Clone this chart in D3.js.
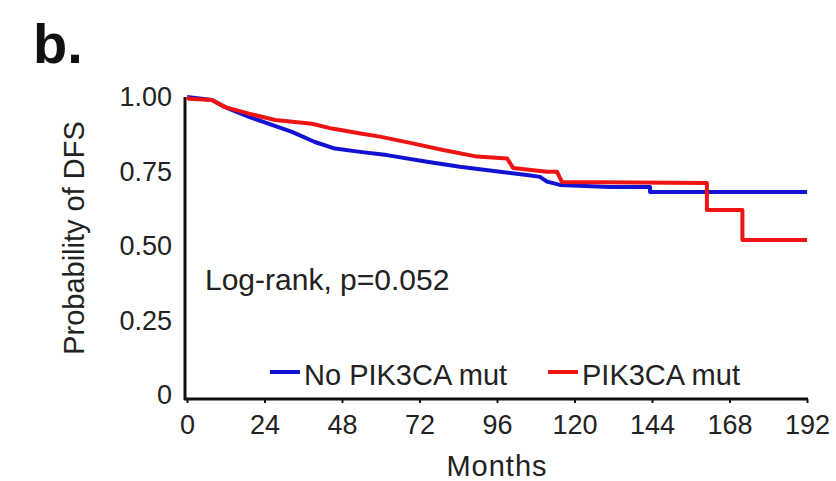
<!DOCTYPE html>
<html>
<head>
<meta charset="utf-8">
<title>Probability of DFS by PIK3CA status</title>
<style>
  body { margin: 0; background: #fff; }
  svg { display: block; font-family: "Liberation Sans", Arial, sans-serif; }
  .axis text { font-size: 27px; fill: #222; }
  .axis .domain { display: none; }
  .axis line { stroke: #111; stroke-width: 2px; }
  .label { font-size: 29px; fill: #222; }
  .panel { font-size: 56px; font-weight: bold; fill: #111; }
</style>
</head>
<body>
<svg width="836" height="481"></svg>
<script src="https://d3js.org/d3.v7.min.js"></script>
<script>
// values: [months, probability]
const noMut = [
  [0, 1.0], [7.7, 0.990], [11.8, 0.966], [19.2, 0.933], [25.4, 0.910],
  [32.5, 0.883], [39.6, 0.849], [45.8, 0.827], [54.2, 0.815], [61.9, 0.805],
  [74.3, 0.783], [84.5, 0.766], [96.9, 0.749], [105.3, 0.738], [109.3, 0.732],
  [111.5, 0.716], [115.5, 0.705], [131, 0.698], [143.4, 0.698], [143.4, 0.681],
  [192, 0.681]
];
const mut = [
  [0, 1.0], [0.6, 0.994], [7.7, 0.990], [11.8, 0.966], [19.2, 0.944],
  [27.3, 0.923], [38.7, 0.910], [44.9, 0.894], [54.2, 0.877], [59.8, 0.867],
  [69.1, 0.846], [79.3, 0.822], [89.8, 0.800], [99.1, 0.794], [101, 0.762],
  [111.5, 0.749], [114.6, 0.749], [116.1, 0.715], [161, 0.711], [161, 0.621],
  [172, 0.621], [172, 0.520], [192, 0.520]
];
const xTicks = [0, 24, 48, 72, 96, 120, 144, 168, 192];
const yTicks = [0, 0.25, 0.5, 0.75, 1];
const seriesNames = ["No PIK3CA mut", "PIK3CA mut"];
const seriesColors = ["#1212d2", "#ee1414"];

const svg = d3.select("svg");

let x = d3.scaleLinear().domain([0, 192]).range([187, 807]);
let y = d3.scaleLinear().domain([0, 1]).range([395, 97]);
let axisY = 399; // x axis sits a little below y(0)

svg.append("text")
  .attr("class", "panel")
  .attr("x", 33).attr("y", 63)
  .text("b.");

// axes
svg.append("g")
  .attr("class", "axis x")
  .attr("transform", `translate(0,${axisY})`)
  .call(d3.axisBottom(x).tickValues(xTicks).tickSize(4).tickPadding(12).tickSizeOuter(0));

svg.append("g")
  .attr("class", "axis y")
  .attr("transform", `translate(${x(0) - 2},0)`)
  .call(d3.axisLeft(y).tickValues(yTicks).tickSize(0).tickPadding(13)
    .tickFormat(d => d === 0 ? "0" : d3.format(".2f")(d)));

// spines
svg.append("line")
  .attr("x1", x(0) - 3).attr("x2", x(192) + 1)
  .attr("y1", axisY).attr("y2", axisY)
  .attr("stroke", "#111").attr("stroke-width", 3);
svg.append("line")
  .attr("x1", x(0) - 2).attr("x2", x(0) - 2)
  .attr("y1", y(1)).attr("y2", axisY + 1)
  .attr("stroke", "#111").attr("stroke-width", 3);

// curves
let line = d3.line().x(d => x(d[0])).y(d => y(d[1]));
[noMut, mut].forEach((data, i) => {
  svg.append("path")
    .datum(data)
    .attr("fill", "none")
    .attr("stroke", seriesColors[i])
    .attr("stroke-width", 4)
    .attr("stroke-linejoin", "round")
    .attr("d", line);
});

// annotation
svg.append("text")
  .attr("class", "label")
  .attr("x", 205).attr("y", 290)
  .style("font-size", "30px")
  .text("Log-rank, p=0.052");

// legend
let legendX = [270, 548];
seriesNames.forEach((name, i) => {
  svg.append("line")
    .attr("x1", legendX[i]).attr("x2", legendX[i] + 30)
    .attr("y1", 372).attr("y2", 372)
    .attr("stroke", seriesColors[i]).attr("stroke-width", 4);
  svg.append("text")
    .attr("class", "label")
    .attr("x", legendX[i] + 34).attr("y", 385)
    .text(name);
});

// axis titles
svg.append("text")
  .attr("class", "label")
  .attr("text-anchor", "middle")
  .attr("x", 497).attr("y", 476)
  .attr("letter-spacing", 1)
  .text("Months");

svg.append("text")
  .attr("class", "label")
  .attr("text-anchor", "middle")
  .attr("transform", "translate(84,238) rotate(-90)")
  .text("Probability of DFS");
</script>
</body>
</html>
